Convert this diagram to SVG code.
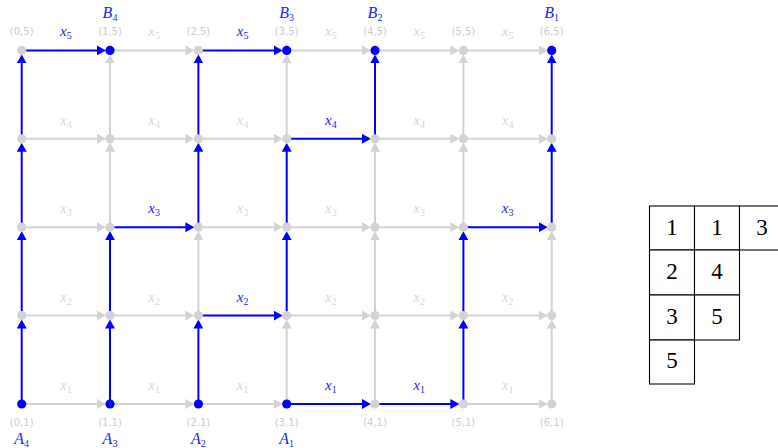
<svg xmlns="http://www.w3.org/2000/svg" width="778" height="448" viewBox="0 0 778 448">
<style>
.e{stroke:#d3d3d3;stroke-width:2;fill:none;marker-end:url(#ag)}
.b{stroke:#0000ff;stroke-width:2;fill:none;marker-end:url(#ab)}
.n{fill:#d3d3d3}
.nb{fill:#0000ff}
.c{font-family:"DejaVu Sans",sans-serif;font-size:10px;fill:#cdcdcd;text-anchor:middle}
.lx{font-family:"Liberation Serif",serif;font-style:italic;font-size:15px;fill:#d8d8d8;text-anchor:middle}
.lb{fill:#1a1aff}
.lab{font-family:"Liberation Serif",serif;font-style:italic;font-size:16px;fill:#2222ff;text-anchor:middle}
.s{font-size:10px;font-style:normal}
.t{fill:#fff;stroke:#000;stroke-width:1.1}
.tn{font-family:"Liberation Serif",serif;font-size:23px;fill:#000;text-anchor:middle}
</style>
<defs>
<marker id="ag" markerUnits="userSpaceOnUse" markerWidth="10" markerHeight="10" refX="5" refY="5" orient="auto"><path d="M0,0 L9,5 L0,10 z" fill="#d3d3d3"/></marker>
<marker id="ab" markerUnits="userSpaceOnUse" markerWidth="10" markerHeight="10" refX="5" refY="5" orient="auto"><path d="M0,0 L9,5 L0,10 z" fill="#0000ff"/></marker>
</defs>
<g id="connectors">
<line class="e" x1="110" y1="404" x2="190.4" y2="404"/>
<line class="e" x1="198.4" y1="404" x2="278.7" y2="404"/>
<line class="e" x1="21.7" y1="404" x2="102" y2="404"/>
<line class="e" x1="463.4" y1="404" x2="543.7" y2="404"/>
<line class="e" x1="21.7" y1="315.6" x2="102" y2="315.6"/>
<line class="e" x1="110" y1="315.6" x2="190.4" y2="315.6"/>
<line class="e" x1="286.7" y1="315.6" x2="367" y2="315.6"/>
<line class="e" x1="375" y1="315.6" x2="455.4" y2="315.6"/>
<line class="e" x1="463.4" y1="315.6" x2="543.7" y2="315.6"/>
<line class="e" x1="21.7" y1="227.2" x2="102" y2="227.2"/>
<line class="e" x1="198.4" y1="227.2" x2="278.7" y2="227.2"/>
<line class="e" x1="286.7" y1="227.2" x2="367" y2="227.2"/>
<line class="e" x1="375" y1="227.2" x2="455.4" y2="227.2"/>
<line class="e" x1="21.7" y1="138.8" x2="102" y2="138.8"/>
<line class="e" x1="110" y1="138.8" x2="190.4" y2="138.8"/>
<line class="e" x1="198.4" y1="138.8" x2="278.7" y2="138.8"/>
<line class="e" x1="375" y1="138.8" x2="455.4" y2="138.8"/>
<line class="e" x1="463.4" y1="138.8" x2="543.7" y2="138.8"/>
<line class="e" x1="110" y1="50.4" x2="190.4" y2="50.4"/>
<line class="e" x1="286.7" y1="50.4" x2="367" y2="50.4"/>
<line class="e" x1="375" y1="50.4" x2="455.4" y2="50.4"/>
<line class="e" x1="463.4" y1="50.4" x2="543.7" y2="50.4"/>
<line class="e" x1="110" y1="227.2" x2="110" y2="146.8"/>
<line class="e" x1="110" y1="138.8" x2="110" y2="58.4"/>
<line class="e" x1="198.4" y1="315.6" x2="198.4" y2="235.2"/>
<line class="e" x1="286.7" y1="404" x2="286.7" y2="323.6"/>
<line class="e" x1="286.7" y1="138.8" x2="286.7" y2="58.4"/>
<line class="e" x1="375" y1="404" x2="375" y2="323.6"/>
<line class="e" x1="375" y1="315.6" x2="375" y2="235.2"/>
<line class="e" x1="375" y1="227.2" x2="375" y2="146.8"/>
<line class="e" x1="463.4" y1="227.2" x2="463.4" y2="146.8"/>
<line class="e" x1="463.4" y1="138.8" x2="463.4" y2="58.4"/>
<line class="e" x1="551.7" y1="404" x2="551.7" y2="323.6"/>
<line class="e" x1="551.7" y1="315.6" x2="551.7" y2="235.2"/>
<line class="b" x1="21.7" y1="50.4" x2="102" y2="50.4"/>
<line class="b" x1="110" y1="227.2" x2="190.4" y2="227.2"/>
<line class="b" x1="198.4" y1="50.4" x2="278.7" y2="50.4"/>
<line class="b" x1="198.4" y1="315.6" x2="278.7" y2="315.6"/>
<line class="b" x1="286.7" y1="138.8" x2="367" y2="138.8"/>
<line class="b" x1="286.7" y1="404" x2="367" y2="404"/>
<line class="b" x1="375" y1="404" x2="455.4" y2="404"/>
<line class="b" x1="463.4" y1="227.2" x2="543.7" y2="227.2"/>
<line class="b" x1="21.7" y1="404" x2="21.7" y2="323.6"/>
<line class="b" x1="21.7" y1="315.6" x2="21.7" y2="235.2"/>
<line class="b" x1="21.7" y1="227.2" x2="21.7" y2="146.8"/>
<line class="b" x1="21.7" y1="138.8" x2="21.7" y2="58.4"/>
<line class="b" x1="110" y1="404" x2="110" y2="323.6"/>
<line class="b" x1="110" y1="315.6" x2="110" y2="235.2"/>
<line class="b" x1="198.4" y1="404" x2="198.4" y2="323.6"/>
<line class="b" x1="198.4" y1="227.2" x2="198.4" y2="146.8"/>
<line class="b" x1="198.4" y1="138.8" x2="198.4" y2="58.4"/>
<line class="b" x1="286.7" y1="315.6" x2="286.7" y2="235.2"/>
<line class="b" x1="286.7" y1="227.2" x2="286.7" y2="146.8"/>
<line class="b" x1="375" y1="138.8" x2="375" y2="58.4"/>
<line class="b" x1="463.4" y1="404" x2="463.4" y2="323.6"/>
<line class="b" x1="463.4" y1="315.6" x2="463.4" y2="235.2"/>
<line class="b" x1="551.7" y1="227.2" x2="551.7" y2="146.8"/>
<line class="b" x1="551.7" y1="138.8" x2="551.7" y2="58.4"/>
<g class="lx">
<text x="65.85" y="390">x<tspan class="s" dy="3">1</tspan></text>
<text x="154.2" y="390">x<tspan class="s" dy="3">1</tspan></text>
<text x="242.55" y="390">x<tspan class="s" dy="3">1</tspan></text>
<text x="330.85" y="390" class="lb">x<tspan class="s" dy="3">1</tspan></text>
<text x="419.2" y="390" class="lb">x<tspan class="s" dy="3">1</tspan></text>
<text x="507.55" y="390">x<tspan class="s" dy="3">1</tspan></text>
<text x="65.85" y="301.6">x<tspan class="s" dy="3">2</tspan></text>
<text x="154.2" y="301.6">x<tspan class="s" dy="3">2</tspan></text>
<text x="242.55" y="301.6" class="lb">x<tspan class="s" dy="3">2</tspan></text>
<text x="330.85" y="301.6">x<tspan class="s" dy="3">2</tspan></text>
<text x="419.2" y="301.6">x<tspan class="s" dy="3">2</tspan></text>
<text x="507.55" y="301.6">x<tspan class="s" dy="3">2</tspan></text>
<text x="65.85" y="213.2">x<tspan class="s" dy="3">3</tspan></text>
<text x="154.2" y="213.2" class="lb">x<tspan class="s" dy="3">3</tspan></text>
<text x="242.55" y="213.2">x<tspan class="s" dy="3">3</tspan></text>
<text x="330.85" y="213.2">x<tspan class="s" dy="3">3</tspan></text>
<text x="419.2" y="213.2">x<tspan class="s" dy="3">3</tspan></text>
<text x="507.55" y="213.2" class="lb">x<tspan class="s" dy="3">3</tspan></text>
<text x="65.85" y="124.8">x<tspan class="s" dy="3">4</tspan></text>
<text x="154.2" y="124.8">x<tspan class="s" dy="3">4</tspan></text>
<text x="242.55" y="124.8">x<tspan class="s" dy="3">4</tspan></text>
<text x="330.85" y="124.8" class="lb">x<tspan class="s" dy="3">4</tspan></text>
<text x="419.2" y="124.8">x<tspan class="s" dy="3">4</tspan></text>
<text x="507.55" y="124.8">x<tspan class="s" dy="3">4</tspan></text>
<text x="65.85" y="36.4" class="lb">x<tspan class="s" dy="3">5</tspan></text>
<text x="154.2" y="36.4">x<tspan class="s" dy="3">5</tspan></text>
<text x="242.55" y="36.4" class="lb">x<tspan class="s" dy="3">5</tspan></text>
<text x="330.85" y="36.4">x<tspan class="s" dy="3">5</tspan></text>
<text x="419.2" y="36.4">x<tspan class="s" dy="3">5</tspan></text>
<text x="507.55" y="36.4">x<tspan class="s" dy="3">5</tspan></text>
</g>
</g>
<g id="nodes">
<g id="n-0-1"><circle class="nb" cx="21.7" cy="404" r="4.6"/><text class="c" x="21.7" y="426">(0,1)</text><text class="lab" x="21.7" y="444">A<tspan class="s" dy="3">4</tspan></text></g>
<g id="n-1-1"><circle class="nb" cx="110" cy="404" r="4.6"/><text class="c" x="110" y="426">(1,1)</text><text class="lab" x="110" y="444">A<tspan class="s" dy="3">3</tspan></text></g>
<g id="n-2-1"><circle class="nb" cx="198.4" cy="404" r="4.6"/><text class="c" x="198.4" y="426">(2,1)</text><text class="lab" x="198.4" y="444">A<tspan class="s" dy="3">2</tspan></text></g>
<g id="n-3-1"><circle class="nb" cx="286.7" cy="404" r="4.6"/><text class="c" x="286.7" y="426">(3,1)</text><text class="lab" x="286.7" y="444">A<tspan class="s" dy="3">1</tspan></text></g>
<g id="n-4-1"><circle class="n" cx="375" cy="404" r="4.6"/><text class="c" x="375" y="426">(4,1)</text></g>
<g id="n-5-1"><circle class="n" cx="463.4" cy="404" r="4.6"/><text class="c" x="463.4" y="426">(5,1)</text></g>
<g id="n-6-1"><circle class="n" cx="551.7" cy="404" r="4.6"/><text class="c" x="551.7" y="426">(6,1)</text></g>
<g id="n-0-2"><circle class="n" cx="21.7" cy="315.6" r="4.6"/></g>
<g id="n-1-2"><circle class="n" cx="110" cy="315.6" r="4.6"/></g>
<g id="n-2-2"><circle class="n" cx="198.4" cy="315.6" r="4.6"/></g>
<g id="n-3-2"><circle class="n" cx="286.7" cy="315.6" r="4.6"/></g>
<g id="n-4-2"><circle class="n" cx="375" cy="315.6" r="4.6"/></g>
<g id="n-5-2"><circle class="n" cx="463.4" cy="315.6" r="4.6"/></g>
<g id="n-6-2"><circle class="n" cx="551.7" cy="315.6" r="4.6"/></g>
<g id="n-0-3"><circle class="n" cx="21.7" cy="227.2" r="4.6"/></g>
<g id="n-1-3"><circle class="n" cx="110" cy="227.2" r="4.6"/></g>
<g id="n-2-3"><circle class="n" cx="198.4" cy="227.2" r="4.6"/></g>
<g id="n-3-3"><circle class="n" cx="286.7" cy="227.2" r="4.6"/></g>
<g id="n-4-3"><circle class="n" cx="375" cy="227.2" r="4.6"/></g>
<g id="n-5-3"><circle class="n" cx="463.4" cy="227.2" r="4.6"/></g>
<g id="n-6-3"><circle class="n" cx="551.7" cy="227.2" r="4.6"/></g>
<g id="n-0-4"><circle class="n" cx="21.7" cy="138.8" r="4.6"/></g>
<g id="n-1-4"><circle class="n" cx="110" cy="138.8" r="4.6"/></g>
<g id="n-2-4"><circle class="n" cx="198.4" cy="138.8" r="4.6"/></g>
<g id="n-3-4"><circle class="n" cx="286.7" cy="138.8" r="4.6"/></g>
<g id="n-4-4"><circle class="n" cx="375" cy="138.8" r="4.6"/></g>
<g id="n-5-4"><circle class="n" cx="463.4" cy="138.8" r="4.6"/></g>
<g id="n-6-4"><circle class="n" cx="551.7" cy="138.8" r="4.6"/></g>
<g id="n-0-5"><circle class="n" cx="21.7" cy="50.4" r="4.6"/><text class="c" x="21.7" y="35">(0,5)</text></g>
<g id="n-1-5"><circle class="nb" cx="110" cy="50.4" r="4.6"/><text class="c" x="110" y="35">(1,5)</text><text class="lab" x="110" y="18">B<tspan class="s" dy="3">4</tspan></text></g>
<g id="n-2-5"><circle class="n" cx="198.4" cy="50.4" r="4.6"/><text class="c" x="198.4" y="35">(2,5)</text></g>
<g id="n-3-5"><circle class="nb" cx="286.7" cy="50.4" r="4.6"/><text class="c" x="286.7" y="35">(3,5)</text><text class="lab" x="286.7" y="18">B<tspan class="s" dy="3">3</tspan></text></g>
<g id="n-4-5"><circle class="nb" cx="375" cy="50.4" r="4.6"/><text class="c" x="375" y="35">(4,5)</text><text class="lab" x="375" y="18">B<tspan class="s" dy="3">2</tspan></text></g>
<g id="n-5-5"><circle class="n" cx="463.4" cy="50.4" r="4.6"/><text class="c" x="463.4" y="35">(5,5)</text></g>
<g id="n-6-5"><circle class="nb" cx="551.7" cy="50.4" r="4.6"/><text class="c" x="551.7" y="35">(6,5)</text><text class="lab" x="551.7" y="18">B<tspan class="s" dy="3">1</tspan></text></g>
</g>
<g id="tableau">
<rect class="t" x="649.5" y="206" width="45" height="44"/>
<rect class="t" x="694.5" y="206" width="45" height="44"/>
<rect class="t" x="739.5" y="206" width="45" height="44"/>
<rect class="t" x="649.5" y="250" width="45" height="45"/>
<rect class="t" x="694.5" y="250" width="45" height="45"/>
<rect class="t" x="649.5" y="295" width="45" height="45"/>
<rect class="t" x="694.5" y="295" width="45" height="45"/>
<rect class="t" x="649.5" y="340" width="45" height="44"/>
<text class="tn" x="672" y="235">1</text>
<text class="tn" x="717" y="235">1</text>
<text class="tn" x="762" y="235">3</text>
<text class="tn" x="672" y="279">2</text>
<text class="tn" x="717" y="279">4</text>
<text class="tn" x="672" y="324">3</text>
<text class="tn" x="717" y="324">5</text>
<text class="tn" x="672" y="368">5</text>
</g>
</svg>
